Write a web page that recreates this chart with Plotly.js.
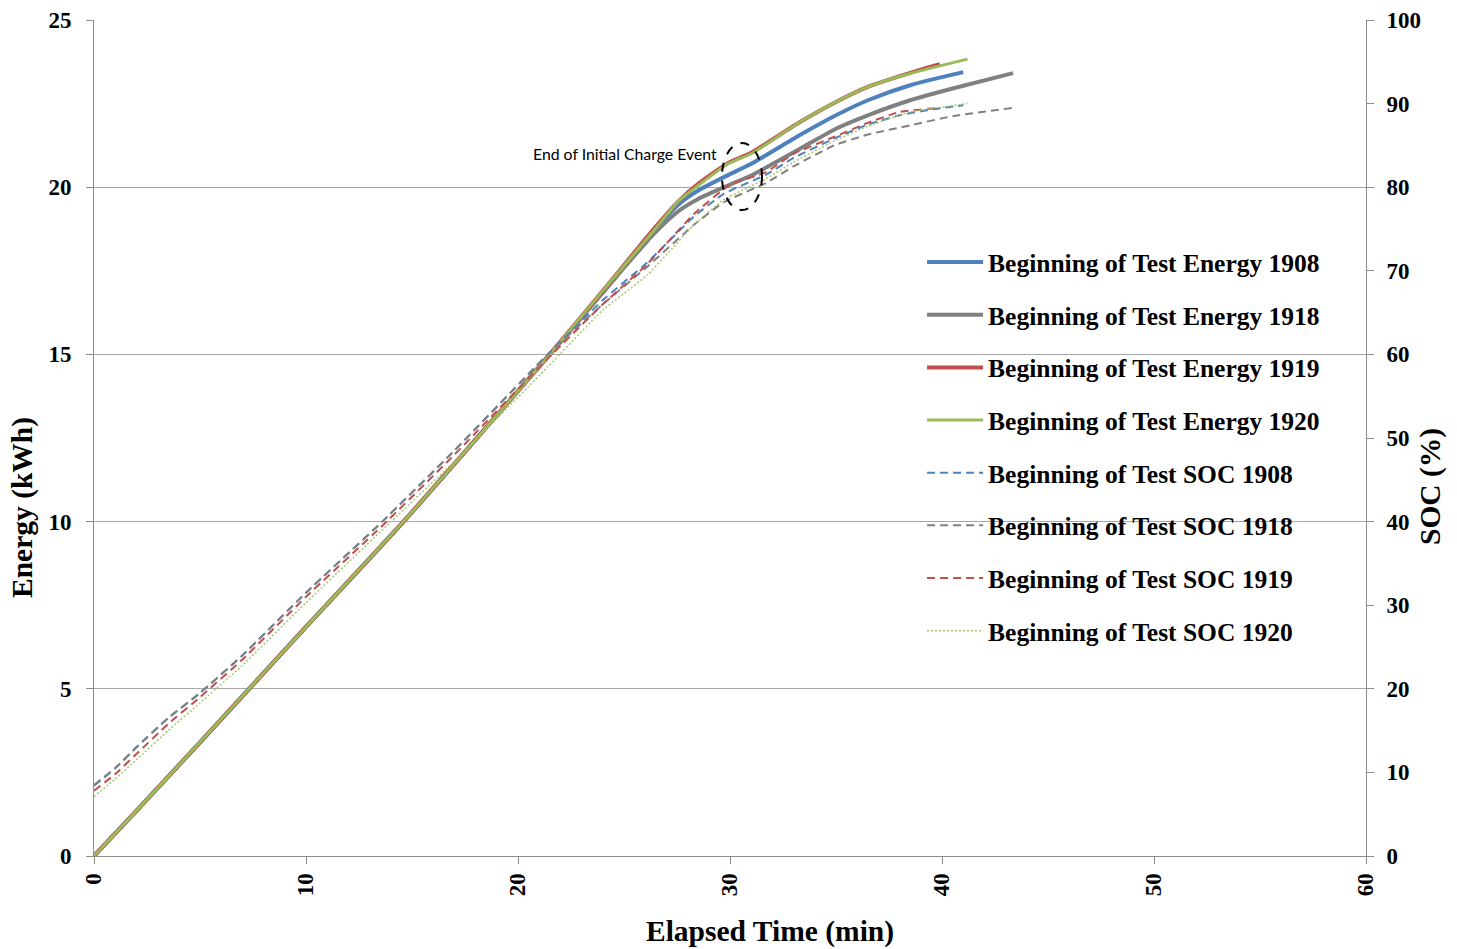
<!DOCTYPE html>
<html>
<head>
<meta charset="utf-8">
<script src="https://cdn.plot.ly/plotly-3.0.1.min.js"></script>
<style>html,body{margin:0;padding:0;background:#fff;}#chart{width:1457px;height:949px;}</style>
</head>
<body>
<div id="chart"></div>
<script>
// ---- Energy (kWh) series ----
const time_E1908 = [0, 2, 5, 10, 14.6, 18, 21.5, 24, 26.4, 27.6, 28.5, 29.9, 31, 33.3, 35, 36.5, 38.5, 41.0];
const energy_1908 = [0, 1.35, 3.4, 6.85, 10.0, 12.45, 15.0, 16.85, 18.7, 19.5, 19.9, 20.36, 20.7, 21.56, 22.15, 22.6, 23.05, 23.44];
const time_E1918 = [0, 2, 5, 10, 14.6, 18, 21.5, 24, 26.4, 27.6, 28.5, 29.9, 31, 33.3, 35, 36.5, 38.5, 40.5, 43.35];
const energy_1918 = [0, 1.35, 3.4, 6.85, 10.0, 12.45, 15.0, 16.85, 18.6, 19.3, 19.65, 20.05, 20.35, 21.15, 21.75, 22.15, 22.6, 22.95, 23.41];
const time_E1919 = [0, 2, 5, 10, 14.6, 18, 21.5, 24, 26.4, 27.6, 28.5, 29.9, 31, 33.3, 35, 36.5, 38.5, 39.9];
const energy_1919 = [0, 1.35, 3.4, 6.85, 10.0, 12.45, 15.0, 16.9, 18.75, 19.6, 20.1, 20.72, 21.03, 21.95, 22.55, 23.0, 23.42, 23.68];
const time_E1920 = [0, 2, 5, 10, 14.6, 18, 21.5, 24, 26.4, 27.6, 28.5, 29.9, 31, 33.3, 35, 36.5, 38.5, 41.2];
const energy_1920 = [0, 1.35, 3.4, 6.85, 10.0, 12.45, 15.0, 16.9, 18.7, 19.6, 20.05, 20.7, 21.0, 21.95, 22.55, 23.0, 23.4, 23.83];

// ---- SOC (%) series ----
const time_S1908 = [0, 1, 2, 3.5, 5, 7, 10, 13.6, 17, 21.4, 24, 26.1, 28.3, 29.7, 31.7, 33, 34.9, 36.5, 38, 39.5, 41.0];
const soc_1908 = [8.4, 10.5, 13, 16.5, 19.5, 24, 31.5, 40, 48.5, 60, 66.5, 71, 76.5, 79.2, 81.5, 83.5, 85.8, 87.5, 88.6, 89.3, 89.8];
const time_S1918 = [0, 1, 2, 3.5, 5, 7, 10, 13.6, 17, 21.4, 24, 26.1, 28.3, 29.7, 31.7, 33, 34.9, 36.5, 38.5, 40.5, 43.4];
const soc_1918 = [8.5, 10.5, 13, 16.5, 19.5, 24, 31.5, 40, 48.5, 60, 66, 70.5, 75.5, 78.2, 80.5, 82.5, 85, 86.3, 87.4, 88.5, 89.5];
const time_S1919 = [0, 1, 2, 3.5, 5, 7, 10, 13.6, 17, 21.4, 24, 26.1, 28.3, 30, 31.7, 33, 34.9, 36.5, 38, 39.9];
const soc_1919 = [7.8, 9.8, 12.2, 15.8, 19, 23.5, 31, 39.5, 48, 59.5, 66, 70.8, 76.8, 80.3, 81.8, 84, 86, 87.7, 89, 89.5];
const time_S1920 = [0, 1, 2, 3.5, 5, 7, 10, 13.6, 17, 21.4, 24, 26.1, 28.3, 29.7, 31.7, 33, 34.9, 36.5, 38.5, 41.2];
const soc_1920 = [7.1, 9.2, 11.5, 15, 18.3, 22.8, 30.3, 39, 47.2, 58.5, 65.3, 69.5, 75.5, 78.5, 81, 83, 85.5, 87.3, 89, 90];

const names = ["Beginning of Test Energy 1908", "Beginning of Test Energy 1918", "Beginning of Test Energy 1919", "Beginning of Test Energy 1920",
               "Beginning of Test SOC 1908", "Beginning of Test SOC 1918", "Beginning of Test SOC 1919", "Beginning of Test SOC 1920"];
const xTicks = [0, 10, 20, 30, 40, 50, 60];
const annText = "End of Initial Charge Event";
const xTitle = "Elapsed Time (min)";
const yTitle = "Energy (kWh)";
const y2Title = "SOC (%)";

const C = {blue: "#4F81BD", gray: "#808080", red: "#C0504D", green: "#9BBB59"};
const serif = "Liberation Serif, Times New Roman, serif";

function eTrace(x, y, name, color, w, g) {
  return {x: x, y: y, name: name, type: "scatter", mode: "lines", xaxis: "x", yaxis: "y",
          line: {color: color, width: w, shape: "spline", smoothing: 0.6}, legendgroup: g};
}
function sTrace(x, y, name, color, w, dash, g) {
  return {x: x, y: y, name: name, type: "scatter", mode: "lines", xaxis: "x", yaxis: "y2",
          line: {color: color, width: w, dash: dash, shape: "spline", smoothing: 0.4}, legendgroup: g};
}

const data = [
  eTrace(time_E1908, energy_1908, names[0], C.blue, 4, "g1"),
  eTrace(time_E1918, energy_1918, names[1], C.gray, 4, "g2"),
  eTrace(time_E1919, energy_1919, names[2], C.red, 4, "g3"),
  eTrace(time_E1920, energy_1920, names[3], C.green, 3, "g4"),
  sTrace(time_S1908, soc_1908, names[4], C.blue, 2, "8px,5px", "g5"),
  sTrace(time_S1918, soc_1918, names[5], C.gray, 2, "8px,5px", "g6"),
  sTrace(time_S1919, soc_1919, names[6], C.red, 2, "8px,5px", "g7"),
  sTrace(time_S1920, soc_1920, names[7], "#a9c46e", 1.5, "2px,2px", "g8")
];

const tickFont = {family: serif, size: 23, color: "#000", weight: 700};
const titleFont = {family: serif, size: 29.5, color: "#000", weight: 700};
const axisGray = "#8c8c8c";

const layout = {
  width: 1457, height: 949,
  margin: {l: 94, r: 91, t: 20, b: 93, autoexpand: false},
  paper_bgcolor: "#fff", plot_bgcolor: "#fff",
  showlegend: true,
  legend: {x: 0.651, xanchor: "left", y: 0.738, yanchor: "top", bgcolor: "rgba(0,0,0,0)",
           font: {family: serif, size: 25.5, color: "#000", weight: 700},
           traceorder: "grouped", tracegroupgap: 16.5, itemwidth: 56},
  xaxis: {range: [0, 60], tickvals: xTicks, ticktext: xTicks.map(String), tickangle: -90,
          showgrid: false, zeroline: false, showline: true, linecolor: axisGray, linewidth: 1,
          ticks: "outside", ticklen: 7, tickcolor: axisGray, tickfont: tickFont, automargin: false},
  yaxis: {range: [0, 25], dtick: 5, showgrid: true, gridcolor: "#a6a6a6", gridwidth: 1, zeroline: false,
          showline: true, linecolor: axisGray, linewidth: 1, ticks: "outside", ticklen: 7, tickcolor: axisGray,
          tickfont: tickFont, ticklabelstandoff: 10, automargin: false},
  yaxis2: {range: [0, 100], dtick: 10, overlaying: "y", side: "right", showgrid: false, zeroline: false,
           showline: true, linecolor: axisGray, linewidth: 1, ticks: "outside", ticklen: 7, tickcolor: axisGray,
           tickfont: tickFont, ticklabelstandoff: 8, automargin: false},
  shapes: [{type: "circle", xref: "x", yref: "y", x0: 29.62, x1: 31.51, y0: 19.32, y1: 21.32,
            line: {color: "#000", width: 2, dash: "dash"}}],
  annotations: [
    {x: 29.5, y: 21.0, xref: "x", yref: "y", xanchor: "right", yanchor: "middle",
     text: annText, showarrow: false, font: {family: "Lato, sans-serif", size: 15.8, color: "#000"}},
    {x: 770, y: 949 - 932, text: xTitle, showarrow: false, font: titleFont,
     xanchor: "center", yanchor: "middle"},
    {x: 23, y: 949 - 508, text: yTitle, showarrow: false, font: titleFont, textangle: -90,
     xanchor: "center", yanchor: "middle"},
    {x: 1430, y: 949 - 487, text: y2Title, showarrow: false, font: titleFont, textangle: -90,
     xanchor: "center", yanchor: "middle"}
  ]
};
// convert pixel-placed title annotations to paper coordinates of the plot area
const pw = 1457 - 94 - 91, ph = 949 - 20 - 93;
for (let i = 1; i < layout.annotations.length; i++) {
  const a = layout.annotations[i];
  a.xref = "paper"; a.yref = "paper";
  a.x = (a.x - 94) / pw;
  a.y = (a.y - 93) / ph;
}

Plotly.newPlot("chart", data, layout, {staticPlot: true, displayModeBar: false});
</script>
</body>
</html>
